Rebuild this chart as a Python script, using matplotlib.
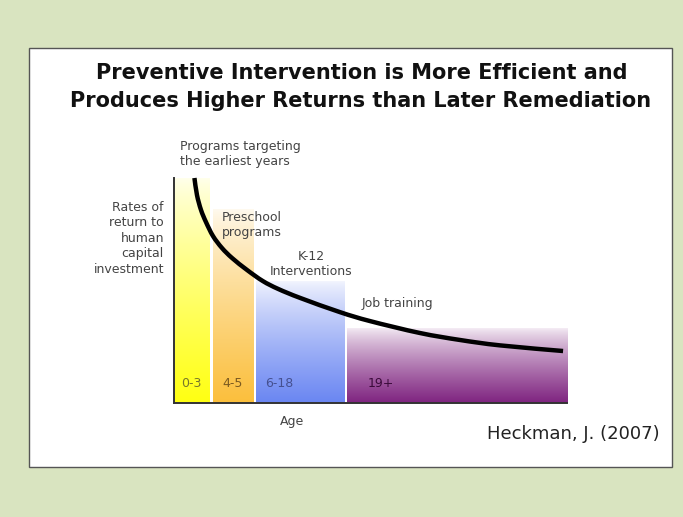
import numpy as np
import matplotlib
matplotlib.use("Agg")
import matplotlib.pyplot as plt
from matplotlib.patches import Rectangle, PathPatch
from matplotlib.path import Path

# ---------------- data ----------------
title_lines = ["Preventive Intervention is More Efficient and",
               "Produces Higher Returns than Later Remediation"]
age_labels = ["0-3", "4-5", "6-18", "19+"]
bar_start = [0.3, 9.9, 20.9, 44.0]
bar_end = [9.2, 20.1, 43.3, 100.0]
bar_top = [100, 86, 54, 33]
bar_colors = ["#ffff12", "#fbbf3c", "#6a86f2", "#7f2480"]
label_colors = ["#77772a", "#7a5a20", "#455090", "#3a0a3a"]

curve_x = [5.2, 5.85, 6.87, 8.14, 9.92, 12.2, 14.8, 18.6, 22.6, 26.5, 32.1,
           42.2, 49.9, 62.6, 72.8, 83.0, 99.0]
curve_y = [100.0, 92.4, 85.8, 80.4, 74.2, 68.9, 64.4, 59.1, 54.2, 50.7, 46.7,
           40.4, 36.4, 31.1, 28.0, 25.6, 23.1]

W, H = 683, 517
fig = plt.figure(figsize=(W / 100, H / 100), dpi=100, facecolor="#d9e4c0")

def fx(px):
    return px / W

def fy(py):
    return 1 - py / H

# white panel
fig.patches.append(Rectangle((fx(29), fy(467)), fx(672) - fx(29), fy(48) - fy(467),
                             transform=fig.transFigure, facecolor="white",
                             edgecolor="#555555", linewidth=1.0, zorder=-5))

ax = fig.add_axes([fx(174), fy(403), fx(567) - fx(174), fy(178) - fy(403)])
ax.set_zorder(3)
ax.patch.set_alpha(0)
for s in ["top", "right"]:
    ax.spines[s].set_visible(False)
for s in ["left", "bottom"]:
    ax.spines[s].set_color("#333333")
    ax.spines[s].set_linewidth(1.4)
ax.set_xticks([])
ax.set_yticks([])

# gradient bars
for x0, x1, top, col in zip(bar_start, bar_end, bar_top, bar_colors):
    rgb = np.array(matplotlib.colors.to_rgb(col))
    t = np.linspace(0, 1, 256)[:, None]
    w = (1 - t) ** 0.8  # 1 at bottom, 0 at top
    w = 0.08 + 0.92 * w
    img = (1 - w)[:, :, None] * np.ones(3) + w[:, :, None] * rgb
    ax.imshow(img, extent=[x0, x1, 0, top], origin="lower", aspect="auto",
              interpolation="bilinear", zorder=1)
ax.set_xlim(0, 100)
ax.set_ylim(0, 100)

# smooth curve through the read points (Catmull-Rom -> cubic Bezier path)
pts = np.column_stack([curve_x, curve_y])
verts = [tuple(pts[0])]
codes = [Path.MOVETO]
n = len(pts)
for i in range(n - 1):
    p0 = pts[i - 1] if i > 0 else pts[i]
    p1 = pts[i]
    p2 = pts[i + 1]
    p3 = pts[i + 2] if i + 2 < n else pts[i + 1]
    c1 = p1 + (p2 - p0) / 6.0
    c2 = p2 - (p3 - p1) / 6.0
    verts += [tuple(c1), tuple(c2), tuple(p2)]
    codes += [Path.CURVE4] * 3
ax.add_patch(PathPatch(Path(verts, codes), facecolor="none", edgecolor="black",
                       linewidth=3.2, capstyle="butt", joinstyle="round",
                       zorder=3, clip_on=False))

# age labels in bars
offs = [1.5, 2.3, 2.2, 5.2]
for x0, lab, c, o in zip(bar_start, age_labels, label_colors, offs):
    ax.text(x0 + o, 8.5, lab, color=c, fontsize=9,
            ha="left", va="center", zorder=4)

# titles
fig.text(fx(362), fy(73), title_lines[0], ha="center", va="center",
         fontsize=15, fontweight="bold", color="#111111")
fig.text(fx(361), fy(101), title_lines[1], ha="center", va="center",
         fontsize=15, fontweight="bold", color="#111111")

txtc = "#444444"
fig.text(fx(180), fy(154), "Programs targeting\nthe earliest years", ha="left",
         va="center", fontsize=9, color=txtc, linespacing=1.2)
fig.text(fx(164), fy(238), "Rates of\nreturn to\nhuman\ncapital\ninvestment",
         ha="right", va="center", fontsize=9, color=txtc, linespacing=1.25,
         multialignment="right")
fig.text(fx(222), fy(225), "Preschool\nprograms", ha="left", va="center",
         fontsize=9, color=txtc, linespacing=1.2)
fig.text(fx(311), fy(264), "K-12\nInterventions", ha="center", va="center",
         fontsize=9, color=txtc, linespacing=1.2)
fig.text(fx(362), fy(303), "Job training", ha="left", va="center",
         fontsize=9, color=txtc)
fig.text(fx(292), fy(421), "Age", ha="center", va="center", fontsize=9,
         color=txtc)
fig.text(fx(660), fy(434), "Heckman, J. (2007)", ha="right", va="center",
         fontsize=13, color="#222222")

fig.savefig("out.png", dpi=100, facecolor=fig.get_facecolor())
